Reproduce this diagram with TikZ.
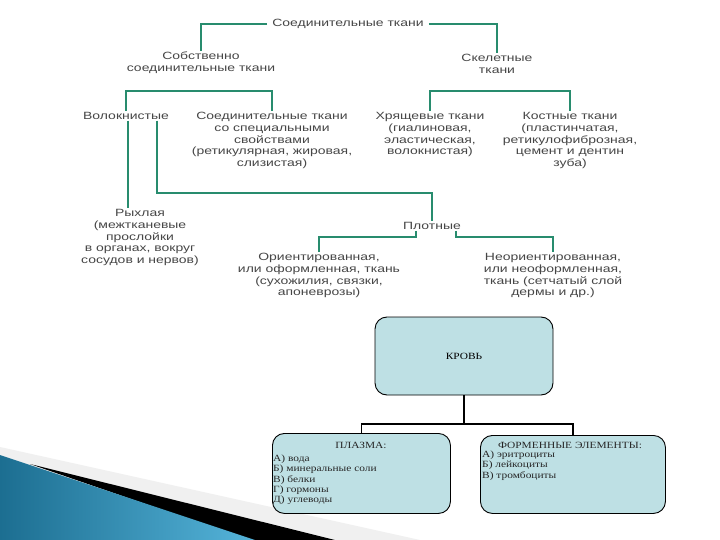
\documentclass[tikz,border=0pt]{standalone}
\usepackage{fontspec}
\setmainfont{Liberation Serif}
\newfontfamily\wsans[FakeStretch=1.33]{Liberation Sans}
\newfontfamily\wserif[FakeStretch=1.2]{Liberation Serif}
\definecolor{tl}{RGB}{40,140,110}
\definecolor{txt}{RGB}{70,70,70}
\definecolor{boxfill}{RGB}{190,224,228}
\definecolor{blueA}{RGB}{28,110,145}
\definecolor{blueB}{RGB}{85,180,218}
\tikzset{
  lbl/.style={font=\wsans\fontsize{10.5}{11.8}\selectfont, text=txt, align=center, inner sep=1pt},
  conn/.style={draw=tl, line width=1.4pt},
  bline/.style={draw=black, line width=1.1pt},
  bbox/.style={draw=black, line width=0.9pt, fill=boxfill, rounded corners=12pt},
  btxt/.style={font=\wserif\fontsize{9.5}{10.2}\selectfont, text=black!85, align=left, inner sep=1pt}
}
\begin{document}
\begin{tikzpicture}[x=1pt,y=-1pt]
\useasboundingbox (0,0) rectangle (720,540);
\fill[white] (0,0) rectangle (720,540);
% decoration bottom-left
\fill[gray!12] (0,447) -- (420,540) -- (0,540) -- cycle;
\fill[black] (30,464) -- (335,540) -- (250,540) -- cycle;
\shade[left color=blueA, right color=blueB] (0,455) -- (255,540) -- (0,540) -- cycle;
% upper tree
\node[lbl, inner xsep=5pt] (root) at (348,24) {Соединительные ткани};
\node[lbl] (sob) at (201,63) {Собственно\\соединительные ткани};
\node[lbl] (skel) at (497,64) {Скелетные\\ткани};
\node[lbl, anchor=north] (volok) at (126,111) {Волокнистые};
\node[lbl, anchor=north] (spec) at (272,111) {Соединительные ткани\\со специальными\\свойствами\\(ретикулярная, жировая,\\слизистая)};
\node[lbl, anchor=north] (hry) at (430,111) {Хрящевые ткани\\(гиалиновая,\\эластическая,\\волокнистая)};
\node[lbl, anchor=north] (kost) at (570,111) {Костные ткани\\(пластинчатая,\\ретикулофиброзная,\\цемент и дентин\\зуба)};
\node[lbl, anchor=north] (rykh) at (140,208) {Рыхлая\\(межтканевые\\прослойки\\в органах, вокруг\\сосудов и нервов)};
\node[lbl] (plot) at (432,226) {Плотные};
\node[lbl, anchor=north] (orient) at (319,252) {Ориентированная,\\или оформленная, ткань\\(сухожилия, связки,\\апоневрозы)};
\node[lbl, anchor=north] (neor) at (553,252) {Неориентированная,\\или неоформленная,\\ткань (сетчатый слой\\дермы и др.)};
\coordinate (lb) at (0,91);
\coordinate (vb) at (0,193);
\coordinate (pb) at (0,237);
\draw[conn] (root.west) -| (sob.north);
\draw[conn] (root.east) -| (skel.north);
\draw[conn] (volok.north) |- (spec.north |- lb) -- (spec.north);
\draw[conn] (hry.north) |- (kost.north |- lb) -- (kost.north);
\draw[conn] ([xshift=2pt]volok.south) -- ([xshift=2pt]volok.south |- rykh.north);
\draw[conn] ([xshift=31pt]volok.south) |- (plot.north |- vb) -- (plot.north);
\draw[conn] ([xshift=-16pt]plot.south) |- (orient.north |- pb) -- (orient.north);
\draw[conn] ([xshift=24pt]plot.south) |- (neor.north |- pb) -- (neor.north);
% lower part
\node[bbox, minimum width=178pt, minimum height=78pt, font=\wserif\fontsize{9.5}{10}\selectfont] (blood) at (464,356) {КРОВЬ};
\node[bbox, minimum width=178pt, minimum height=80pt, anchor=north west] (plasma) at (272,433) {};
\node[bbox, minimum width=185pt, minimum height=78pt, anchor=north west] (formed) at (480,435) {};
\coordinate (bj) at (0,424);
\draw[bline] (blood.south) -- (blood.south |- bj);
\draw[bline] (plasma.north) |- (formed.north |- bj) -- (formed.north);
\node[btxt] (ptitle) at (361,445) {ПЛАЗМА:};
\node[btxt, anchor=north west] (plist) at (272,454) {А) вода\\Б) минеральные соли\\В) белки\\Г) гормоны\\Д) углеводы};
\node[btxt] (ftitle) at (570,445) {ФОРМЕННЫЕ ЭЛЕМЕНТЫ:};
\node[btxt, anchor=north west] (flist) at (481,450) {А) эритроциты\\Б) лейкоциты\\В) тромбоциты};
\end{tikzpicture}
\end{document}
